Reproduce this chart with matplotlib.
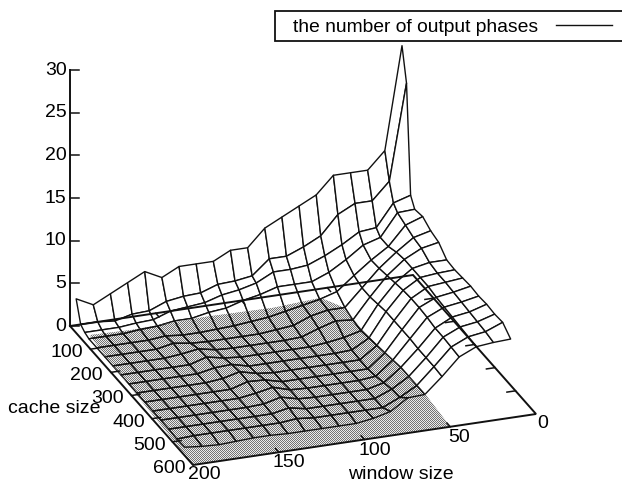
import numpy as np
import matplotlib
matplotlib.use('Agg')
import matplotlib.pyplot as plt
from matplotlib.collections import PolyCollection
from matplotlib.patches import Polygon, Rectangle

plt.rcParams['font.family'] = ['Liberation Sans', 'DejaVu Sans']

window_size = [200, 190, 180, 170, 160, 150, 140, 130, 120, 110, 100, 90, 80, 70, 60, 50, 40, 30, 20, 10]
cache_size = [30, 52, 72, 92, 131, 170, 209, 248, 287, 326, 365, 404, 443, 482, 521, 560]
# one row per cache size, rear to front
phases = [
    [4, 3, 4, 5, 6, 5, 6, 6, 6, 7, 7, 9, 10, 11, 12, 14, 14, 14, 16, 28],
    [1.6, 1.6, 1.4, 1.9, 2, 2.8, 3.1, 3.2, 3.9, 4, 4.3, 6, 6, 6.8, 7.8, 10, 11, 11, 13, 24.2],
    [1.2, 1.2, 1.2, 1.4, 1.5, 2.2, 2.4, 2.6, 3.2, 3.5, 4, 5, 5, 5.2, 6, 7, 8.2, 8.4, 11, 11.6],
    [1, 1, 1, 1.2, 1.3, 1.6, 1.6, 2, 2.2, 2.8, 3.2, 3.8, 3.8, 3.8, 4.6, 5.8, 7.2, 7.8, 10.4, 10.5],
    [1, 1, 1, 1, 1.2, 1, 1, 1.1, 1.2, 1.4, 1.6, 2, 2.4, 2.8, 3.4, 5, 6.5, 7.8, 10, 10.7],
    [1, 1, 1, 1, 1.4, 1.1, 1, 1, 1, 1, 1.2, 1.4, 2.2, 2.6, 2.6, 4.6, 6.6, 8.2, 9.6, 10.1],
    [1, 1, 1, 1, 1.2, 1.5, 1.1, 1, 1, 1, 1, 1.1, 1.8, 2.4, 2.2, 4.6, 6.8, 8.4, 9.4, 9.8],
    [1, 1, 1, 1, 1, 1.6, 1.2, 1, 1, 1, 1, 1, 1.2, 1.5, 2, 4.8, 7, 8.4, 8.8, 8.8],
    [1, 1, 1, 1, 1, 1.4, 1.5, 1, 1, 1, 1, 1, 1, 1.1, 2.2, 5, 7.2, 8.4, 8.6, 8.7],
    [1, 1, 1, 1, 1, 1.2, 1.7, 1.2, 1, 1, 1, 1, 1, 1, 2.4, 5, 7.3, 8.4, 8.6, 8.8],
    [1, 1, 1, 1, 1, 1, 1.6, 1.5, 1, 1, 1, 1, 1, 1, 2.6, 5, 7.3, 8.2, 8.5, 8.9],
    [1, 1, 1, 1, 1, 1, 1.3, 1.7, 1.1, 1, 1, 1, 1, 1.2, 2.8, 5, 7.2, 8.1, 8.4, 8.8],
    [1, 1, 1, 1, 1, 1, 1.1, 1.6, 1.1, 1, 1, 1, 1, 1.5, 3, 4.9, 7, 8, 8.3, 8.9],
    [1, 1, 1, 1, 1, 1, 1, 1.4, 1, 1, 1, 1, 1, 1.8, 3, 4.9, 7, 7.9, 8.2, 8.8],
    [0.9, 1, 1, 1, 1, 1, 1, 1.2, 1, 1, 1, 1, 1, 1.9, 3, 4.9, 6.9, 7.8, 8.1, 8.9],
    [1, 0.8, 0.7, 0.8, 0.9, 0.9, 0.8, 0.8, 0.8, 0.8, 0.8, 1.1, 1.6, 2.9, 3, 4.8, 6.8, 7.7, 7.9, 8],
]
# shaded patch on the floor, (window, cache)
shade_window = [200, 195, 194, 170, 126, 87, 58, 51, 51, 49, 48, 50]
shade_cache = [600, 100, 46, 50, 42, 46, 35, 82, 181, 343, 457, 600]

window_ticks = [0, 50, 100, 150, 200]
cache_ticks = [100, 200, 300, 400, 500, 600]
z_ticks = [0, 5, 10, 15, 20, 25, 30]


def proj(w, c, z=0.0):
    # gnuplot style parallel projection onto the picture
    a = (200.0 - np.asarray(w, dtype=float)) / 200.0
    b = np.asarray(c, dtype=float) / 600.0
    z = np.asarray(z, dtype=float)
    return 70 + 343 * a + 123 * b, 326 - 51 * a + 139 * b - 8.53 * z


fig = plt.figure(figsize=(6.22, 4.86), dpi=100)
ax = fig.add_axes([0, 0, 1, 1])

W, C = np.meshgrid(window_size, cache_size)
Z = np.array(phases)
X, Y = proj(W, C, Z)
quads = []
for r in range(Z.shape[0] - 1):
    for k in range(Z.shape[1] - 1):
        quads.append([(X[r, k], Y[r, k]), (X[r, k + 1], Y[r, k + 1]),
                      (X[r + 1, k + 1], Y[r + 1, k + 1]), (X[r + 1, k], Y[r + 1, k])])

ax.add_collection(PolyCollection(quads, facecolors='white', edgecolors='#111111', linewidths=1.0, zorder=2))
sx, sy = proj(shade_window, shade_cache)
shade = Polygon(np.column_stack([sx, sy]), closed=True, facecolor='#b0b0b0', edgecolor='none', zorder=3)
ax.add_patch(shade)
# halftone screen of the scanned print
jj, ii = np.meshgrid(np.arange(622), np.arange(486))
screen = ax.imshow(np.where((ii + jj) % 2 == 0, 0.45, 0.92), cmap='gray', vmin=0, vmax=1,
                   extent=(0, 622, 486, 0), aspect='auto', interpolation='nearest', zorder=3.5)
screen.set_clip_path(shade)
inner = PolyCollection(quads, facecolors='none', edgecolors='#111111', linewidths=1.0, zorder=4)
ax.add_collection(inner)
inner.set_clip_path(shade)
ax.set_xlim(0, 622)
ax.set_ylim(486, 0)
ax.axis('off')

# floor frame
fx, fy = proj([200, 0, 0, 200, 200], [0, 0, 600, 600, 0])
ax.plot(fx, fy, color='#111111', lw=1.4, zorder=5, solid_joinstyle='miter')
zx, zy = proj([200, 200], [0, 0], [0, 30])
ax.plot(zx, zy, color='#111111', lw=1.4, zorder=5)

for t in z_ticks:
    x0, y0 = proj(200, 0, t)
    ax.plot([x0, x0 + 9], [y0, y0], color='#111111', lw=1.1, zorder=5)
    ax.text(x0 - 3.5, y0, str(t), ha='right', va='center', fontsize=14)
for t in window_ticks[1:-1]:
    for c, d in [(0, 16), (600, -16)]:
        x0, y0 = proj(t, c)
        x1, y1 = proj(t, c + d)
        ax.plot([x0, x1], [y0, y1], color='#111111', lw=1.1, zorder=5)
for t in cache_ticks[:-1]:
    for w, d in [(200, -5), (0, 5)]:
        x0, y0 = proj(w, t)
        x1, y1 = proj(w + d, t)
        ax.plot([x0, x1], [y0, y1], color='#111111', lw=1.1, zorder=5)
for t, lx, ly in zip(window_ticks, [543, 459, 374.5, 289, 204], [423, 437, 450, 462, 474]):
    ax.text(lx, ly, str(t), ha='center', va='center', fontsize=14)
for t, lx, ly in zip(cache_ticks, [83, 103, 124, 145, 166, 186], [352, 375, 398, 422, 445, 468]):
    ax.text(lx, ly, str(t), ha='right', va='center', fontsize=14)
ax.text(8, 408, 'cache size', ha='left', va='center', fontsize=14, zorder=6)
ax.text(400.5, 474, 'window size', ha='center', va='center', fontsize=14)

# key box runs off the right edge
ax.add_patch(Rectangle((275, 11), 360, 30, facecolor='white', edgecolor='#111111', lw=1.3, zorder=6))
ax.text(293, 27, 'the number of output phases', ha='left', va='center', fontsize=13.9, zorder=7)
ax.plot([556, 612], [25.5, 25.5], color='#111111', lw=1.0, zorder=7)

fig.savefig('out.png', dpi=100)
